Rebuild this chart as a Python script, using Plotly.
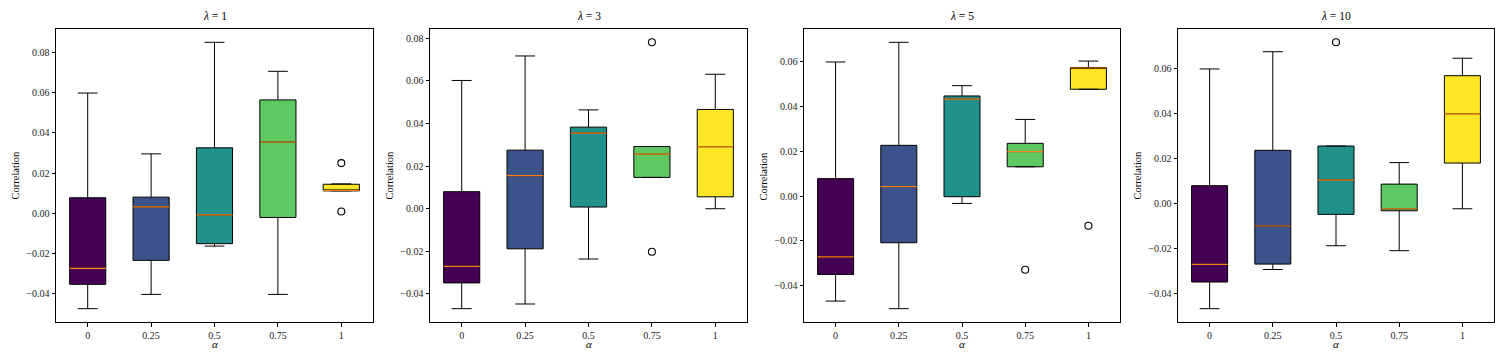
import plotly.graph_objects as go

# ---------------- data ----------------
alpha_labels = ["0", "0.25", "0.5", "0.75", "1"]
lambda_labels = ["1", "3", "5", "10"]

# per lambda panel: lists over alpha
q1_l1 = [-0.0352, -0.0233, -0.0150, -0.0020, 0.0112]
med_l1 = [-0.0273, 0.0033, -0.0007, 0.0355, 0.0114]
q3_l1 = [0.0078, 0.0081, 0.0326, 0.0564, 0.0145]
lo_l1 = [-0.0473, -0.0402, -0.0162, -0.0402, 0.0112]
hi_l1 = [0.0598, 0.0296, 0.0850, 0.0706, 0.0147]
out_x_l1 = [4, 4]
out_y_l1 = [0.0250, 0.0010]

q1_l3 = [-0.0348, -0.0188, 0.0008, 0.0147, 0.0056]
med_l3 = [-0.0270, 0.0155, 0.0355, 0.0256, 0.0291]
q3_l3 = [0.0080, 0.0275, 0.0383, 0.0292, 0.0466]
lo_l3 = [-0.0469, -0.0447, -0.0236, 0.0147, 0.0000]
hi_l3 = [0.0602, 0.0717, 0.0464, 0.0292, 0.0631]
out_x_l3 = [3, 3]
out_y_l3 = [0.0781, -0.0202]

q1_l5 = [-0.0351, -0.0209, -0.0003, 0.0131, 0.0478]
med_l5 = [-0.0272, 0.0042, 0.0434, 0.0199, 0.0573]
q3_l5 = [0.0078, 0.0227, 0.0448, 0.0236, 0.0575]
lo_l5 = [-0.0470, -0.0504, -0.0033, 0.0131, 0.0478]
hi_l5 = [0.0600, 0.0688, 0.0494, 0.0343, 0.0604]
out_x_l5 = [3, 4]
out_y_l5 = [-0.0330, -0.0133]

q1_l10 = [-0.0351, -0.0271, -0.0049, -0.0033, 0.0180]
med_l10 = [-0.0272, -0.0101, 0.0104, -0.0024, 0.0400]
q3_l10 = [0.0079, 0.0237, 0.0256, 0.0086, 0.0570]
lo_l10 = [-0.0470, -0.0295, -0.0189, -0.0211, -0.0024]
hi_l10 = [0.0600, 0.0677, 0.0256, 0.0182, 0.0648]
out_x_l10 = [2]
out_y_l10 = [0.0719]

box_colors = ["#440154", "#3b528b", "#21918c", "#5ec962", "#fde725"]
median_color = "#ff7f0e"

panels = [
    (q1_l1, med_l1, q3_l1, lo_l1, hi_l1, out_x_l1, out_y_l1),
    (q1_l3, med_l3, q3_l3, lo_l3, hi_l3, out_x_l3, out_y_l3),
    (q1_l5, med_l5, q3_l5, lo_l5, hi_l5, out_x_l5, out_y_l5),
    (q1_l10, med_l10, q3_l10, lo_l10, hi_l10, out_x_l10, out_y_l10),
]

# ---------------- layout geometry (page pixels) ----------------
PAGE_W, PAGE_H = 1509, 357
OFF = 8  # default body margin of the html page
W, H = PAGE_W - OFF, PAGE_H - OFF
x_domains = [(56, 373), (430, 747), (804, 1120), (1178, 1494)]
y_top, y_bot = 29, 322
BOX_W = 0.57
FONT = "Liberation Serif, Times New Roman, serif"


def px(xp):
    return (xp - OFF) / W


def py(yp):
    return 1 - (yp - OFF) / H


fig = go.Figure()
layout = dict(
    width=W, height=H,
    margin=dict(l=0, r=0, t=0, b=0, autoexpand=False),
    paper_bgcolor="white", plot_bgcolor="white",
    showlegend=False, boxmode="overlay",
    font=dict(family=FONT, size=10, color="black"),
    annotations=[],
)

for k, (q1, med, q3, lo, hi, ox, oy) in enumerate(panels):
    xa = "x" if k == 0 else f"x{k+1}"
    ya = "y" if k == 0 else f"y{k+1}"
    pos = list(range(len(alpha_labels)))
    for i in pos:
        fig.add_trace(go.Box(
            x=[i], q1=[q1[i]], median=[med[i]], q3=[q3[i]],
            lowerfence=[lo[i]], upperfence=[hi[i]],
            width=BOX_W, whiskerwidth=0.55,
            fillcolor=box_colors[i],
            line=dict(color="black", width=1),
            boxpoints=False, xaxis=xa, yaxis=ya, hoverinfo="skip",
        ))
        fig.add_trace(go.Scatter(
            x=[i - BOX_W / 2, i + BOX_W / 2], y=[med[i], med[i]],
            mode="lines", line=dict(color=median_color, width=1.2),
            xaxis=xa, yaxis=ya, hoverinfo="skip",
        ))
    fig.add_trace(go.Scatter(
        x=ox, y=oy, mode="markers",
        marker=dict(symbol="circle-open", size=7, color="black", line=dict(width=1.1)),
        xaxis=xa, yaxis=ya, hoverinfo="skip",
    ))

    allv = lo + hi + oy
    vmin, vmax = min(allv), max(allv)
    m = 0.05 * (vmax - vmin)
    x0, x1 = x_domains[k]
    axis_common = dict(
        showline=True, linecolor="black", linewidth=1, mirror=True,
        showgrid=False, zeroline=False, ticks="outside", ticklen=3.5,
        tickcolor="black", tickwidth=0.8, automargin=False,
        tickfont=dict(family=FONT, size=10, color="#222"),
    )
    layout["xaxis" if k == 0 else f"xaxis{k+1}"] = dict(
        axis_common, domain=[px(x0), px(x1)], anchor=ya,
        range=[-0.5, 4.5], tickvals=pos, ticktext=alpha_labels,
    )
    layout["yaxis" if k == 0 else f"yaxis{k+1}"] = dict(
        axis_common, domain=[py(y_bot), py(y_top)], anchor=xa,
        range=[vmin - m, vmax + m], dtick=0.02, tick0=0, tickformat=".2f",
    )
    layout["annotations"].append(dict(
        text=f"<i>λ</i> = {lambda_labels[k]}", xref="paper", yref="paper",
        x=px((x0 + x1) / 2), y=py(16), xanchor="center", yanchor="middle",
        showarrow=False, font=dict(family=FONT, size=11.5, color="black"),
    ))
    layout["annotations"].append(dict(
        text="<i>α</i>", xref="paper", yref="paper",
        x=px((x0 + x1) / 2), y=py(344), xanchor="center", yanchor="middle",
        showarrow=False, font=dict(family=FONT, size=11, color="black"),
    ))
    layout["annotations"].append(dict(
        text="Correlation", xref="paper", yref="paper", textangle=-90,
        x=px(x0 - 41), y=py((y_top + y_bot) / 2),
        xanchor="center", yanchor="middle",
        showarrow=False, font=dict(family=FONT, size=10.5, color="black"),
    ))

fig.update_layout(**layout)
fig.write_html("out.html")
